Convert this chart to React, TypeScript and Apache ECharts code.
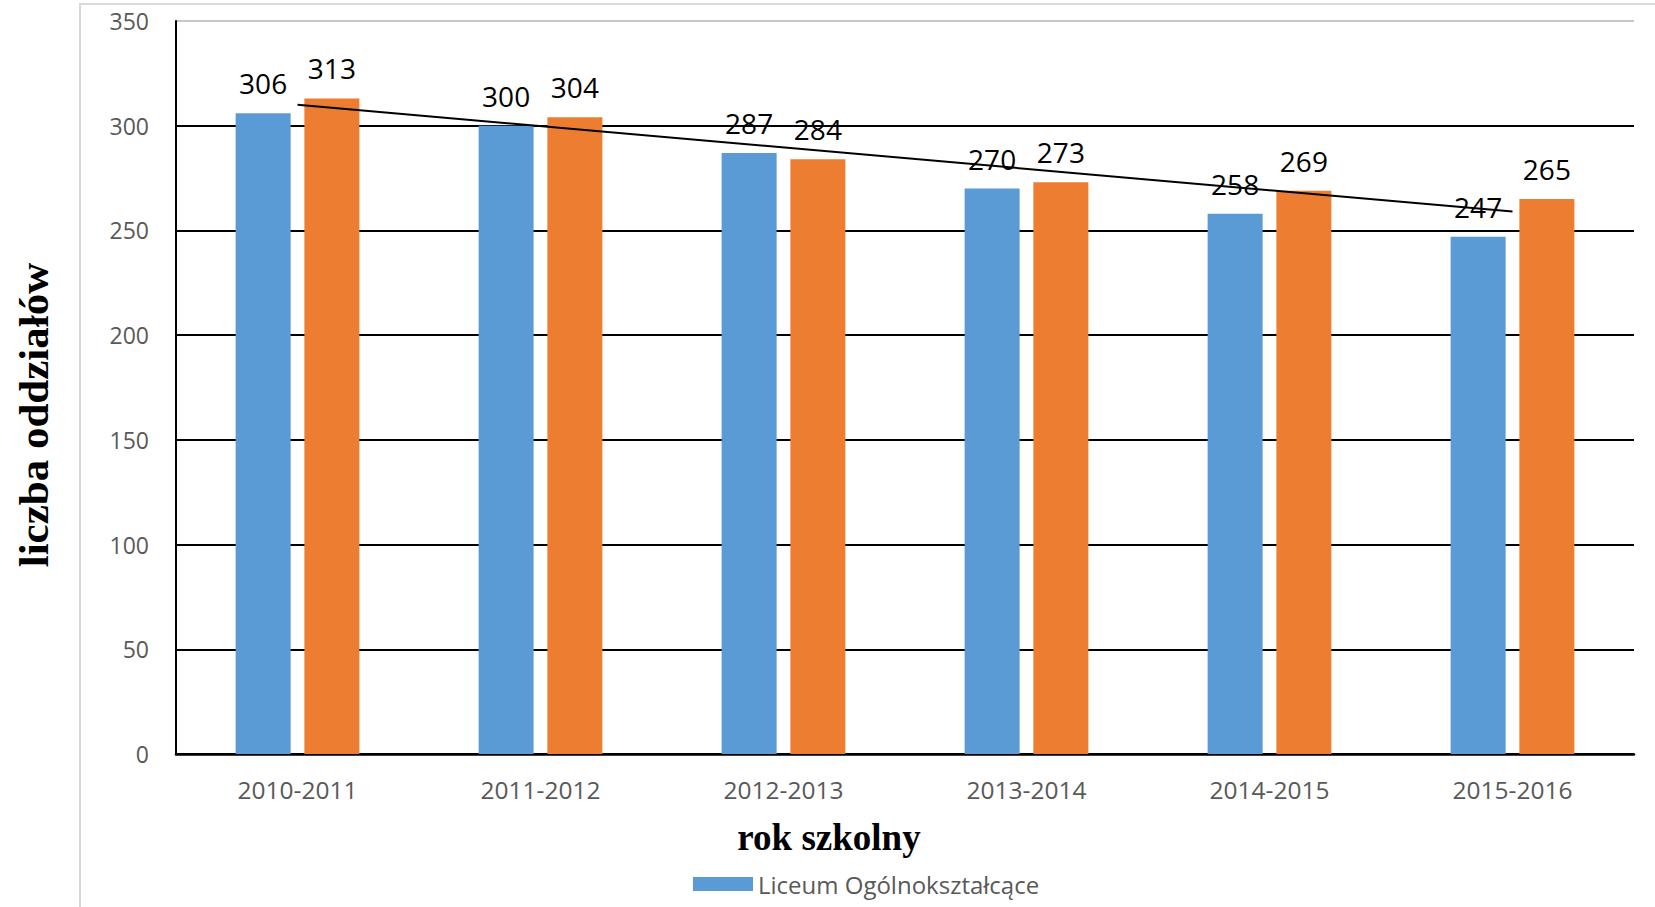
import React, { useEffect, useRef } from "react";
import * as echarts from "echarts";

const categories = ["2010-2011", "2011-2012", "2012-2013", "2013-2014", "2014-2015", "2015-2016"];
const liceumValues = [306, 300, 287, 270, 258, 247];
const secondValues = [313, 304, 284, 273, 269, 265];
const trendValues = [310, 259];
const yTicks = [0, 50, 100, 150, 200, 250, 300, 350];

const legendName = "Liceum Ogólnokształcące";
const yAxisTitle = "liczba oddziałów";
const xAxisTitle = "rok szkolny";

export default function App() {
  const ref = useRef<HTMLDivElement>(null);
  useEffect(() => {
    if (!ref.current) return;
    const chart = echarts.init(ref.current, null, { renderer: "svg" });
    const sans = "'Open Sans', 'Noto Sans', sans-serif";
    const serif = "'Liberation Serif', 'DejaVu Serif', serif";
    const splitColors = yTicks.map((_, i) => (i === yTicks.length - 1 ? "#c8c8c8" : "#000000"));
    chart.setOption({
      animation: false,
      backgroundColor: "#ffffff",
      grid: { left: 176, right: 21, top: 21, bottom: 153 },
      legend: {
        data: [legendName],
        left: 688,
        top: 867,
        itemWidth: 60,
        itemHeight: 14,
        icon: "rect",
        textStyle: { fontFamily: sans, fontSize: 24, color: "#595959" },
      },
      graphic: [
        {
          type: "rect",
          shape: { x: 80, y: 4, width: 1700, height: 1000 },
          style: { fill: "none", stroke: "#d9d9d9", lineWidth: 2 },
          silent: true,
          z: -10,
        },
        {
          type: "text",
          x: 33,
          y: 415,
          rotation: Math.PI / 2,
          style: {
            text: yAxisTitle,
            fontFamily: serif,
            fontWeight: "bold",
            fontSize: 43,
            fill: "#000000",
            align: "center",
            verticalAlign: "middle",
          },
        },
        {
          type: "text",
          x: 829,
          y: 837,
          style: {
            text: xAxisTitle,
            fontFamily: serif,
            fontWeight: "bold",
            fontSize: 37,
            fill: "#000000",
            align: "center",
            verticalAlign: "middle",
          },
        },
      ],
      xAxis: {
        type: "category",
        data: categories,
        axisLine: { show: true, lineStyle: { color: "#000000", width: 2.5 } },
        axisTick: { show: false },
        axisLabel: { fontFamily: sans, fontSize: 24.5, color: "#595959", margin: 23 },
      },
      yAxis: {
        type: "value",
        min: 0,
        max: 350,
        interval: 50,
        axisLine: { show: true, lineStyle: { color: "#000000", width: 2 } },
        axisTick: { show: false },
        axisLabel: { fontFamily: sans, fontSize: 23, color: "#595959", margin: 27 },
        splitLine: { show: true, lineStyle: { color: splitColors, width: 2 } },
      },
      series: [
        {
          name: legendName,
          type: "bar",
          data: liceumValues,
          barWidth: 55,
          barGap: "25%",
          itemStyle: { color: "#5B9BD5" },
          label: {
            show: true,
            position: "top",
            distance: 16,
            fontFamily: sans,
            fontSize: 28,
            color: "#000000",
          },
        },
        {
          name: "seria 2",
          type: "bar",
          data: secondValues,
          barWidth: 55,
          barGap: "25%",
          itemStyle: { color: "#ED7D31" },
          label: {
            show: true,
            position: "top",
            distance: 16,
            fontFamily: sans,
            fontSize: 28,
            color: "#000000",
          },
        },
        {
          name: "trend",
          type: "line",
          data: [
            [0, trendValues[0]],
            [categories.length - 1, trendValues[1]],
          ],
          symbol: "none",
          lineStyle: { color: "#000000", width: 2 },
          z: 5,
          silent: true,
        },
      ],
    });
    return () => chart.dispose();
  }, []);
  return (
    <div
      ref={ref}
      style={{ position: "fixed", left: 0, top: 0, width: 1655, height: 907 }}
    />
  );
}
